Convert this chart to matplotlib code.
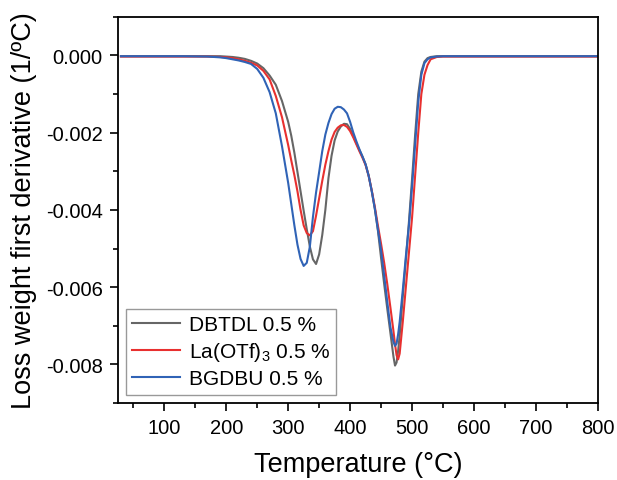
import numpy as np
import matplotlib.pyplot as plt
from matplotlib.ticker import MultipleLocator, FormatStrFormatter

plt.rcParams['font.family'] = ['Liberation Sans', 'DejaVu Sans']
plt.rcParams['mathtext.fontset'] = 'custom'
plt.rcParams['mathtext.rm'] = 'Liberation Sans'

# temperature grid (degC) and DTG values
temp = [30, 80, 130, 170, 190,
        200, 210, 220, 230, 240, 250, 260, 270, 280, 290, 300,
        305, 310, 315, 320, 325, 330, 335, 340, 345, 350, 355, 360, 365, 370,
        375, 380, 385, 390, 395, 400, 405,
        410, 415, 420, 425, 430, 435, 440, 445, 450, 455, 460, 465, 470,
        472.5, 475, 477.5,
        480, 485, 490, 495, 500, 505, 510, 515, 520, 525, 530,
        540, 550, 600, 700, 800]

dbtdl = [-0.00002, -0.00002, -0.00002, -0.00002, -0.00002,
         -0.00003, -0.00004, -0.00006, -0.00009, -0.00014, -0.00021, -0.00033, -0.00052,
         -0.00076, -0.00118, -0.00172,
         -0.00208, -0.00252, -0.00302, -0.00352, -0.00402, -0.00450, -0.00495, -0.00528,
         -0.00540, -0.00515, -0.00465, -0.00400, -0.00318, -0.00260,
         -0.00220, -0.00197, -0.00184, -0.00177, -0.00178, -0.00190, -0.00208,
         -0.00227, -0.00245, -0.00262, -0.00282, -0.00312, -0.00352, -0.00398, -0.00455,
         -0.00525, -0.00592, -0.00656, -0.00718, -0.00780,
         -0.00803, -0.00795, -0.00765,
         -0.00725, -0.00625, -0.00530, -0.00430, -0.00320, -0.00205, -0.00100, -0.00042,
         -0.00016, -0.00007, -0.00004,
         -0.00002, -0.00002, -0.00002, -0.00002, -0.00002]

la_otf = [-0.00003, -0.00003, -0.00003, -0.00003, -0.00004,
          -0.00005, -0.00007, -0.00010, -0.00014, -0.00019, -0.00026, -0.00040, -0.00062,
          -0.00105, -0.00160, -0.00232,
          -0.00272, -0.00310, -0.00352, -0.00400, -0.00440, -0.00460, -0.00466, -0.00455,
          -0.00415, -0.00370, -0.00325, -0.00283, -0.00248, -0.00218,
          -0.00198, -0.00187, -0.00181, -0.00180, -0.00185, -0.00196, -0.00212,
          -0.00230, -0.00248, -0.00265, -0.00284, -0.00312, -0.00350, -0.00393, -0.00442,
          -0.00488, -0.00537, -0.00592, -0.00652, -0.00714,
          -0.00748, -0.00776, -0.00787,
          -0.00772, -0.00690, -0.00600, -0.00510, -0.00420, -0.00310, -0.00200, -0.00100,
          -0.00050, -0.00025, -0.00010,
          -0.00004, -0.00003, -0.00003, -0.00003, -0.00003]

bgdbu = [-0.00002, -0.00002, -0.00002, -0.00003, -0.00005,
         -0.00007, -0.00010, -0.00013, -0.00017, -0.00022, -0.00035, -0.00058, -0.00095,
         -0.00150, -0.00235, -0.00330,
         -0.00385, -0.00440, -0.00490, -0.00527, -0.00545, -0.00537, -0.00495, -0.00418,
         -0.00355, -0.00302, -0.00248, -0.00205, -0.00175, -0.00152,
         -0.00138, -0.00133, -0.00134, -0.00140, -0.00150, -0.00172, -0.00199,
         -0.00222, -0.00243, -0.00262, -0.00282, -0.00312, -0.00352, -0.00398, -0.00452,
         -0.00505, -0.00570, -0.00638, -0.00703, -0.00742,
         -0.00752, -0.00746, -0.00722,
         -0.00690, -0.00608, -0.00520, -0.00440, -0.00340, -0.00230, -0.00120, -0.00050,
         -0.00020, -0.00010, -0.00005,
         -0.00003, -0.00002, -0.00002, -0.00002, -0.00002]

labels = ['DBTDL 0.5 %', r'La(OTf)$_\mathregular{3}$ 0.5 %', 'BGDBU 0.5 %']
colors = ['#666666', '#e8302f', '#3063b6']

fig = plt.figure(figsize=(6.17, 4.81), dpi=100)
ax = fig.add_axes([0.191, 0.160, 0.778, 0.803])

for ys, lab, c in zip([dbtdl, la_otf, bgdbu], labels, colors):
    ax.plot(temp, ys, color=c, lw=1.5, label=lab)

ax.set_xlim(25, 800)
ax.set_ylim(-0.009, 0.001)
ax.xaxis.set_major_locator(MultipleLocator(100))
ax.xaxis.set_minor_locator(MultipleLocator(50))
ax.yaxis.set_major_locator(MultipleLocator(0.002))
ax.yaxis.set_minor_locator(MultipleLocator(0.001))
ax.yaxis.set_major_formatter(FormatStrFormatter('%.3f'))
ax.tick_params(which='major', direction='out', length=6, width=1.2, labelsize=14.5, pad=5)
ax.tick_params(which='minor', direction='out', length=3.5, width=1.2)
for s in ax.spines.values():
    s.set_linewidth(1.3)

ax.set_xlabel('Temperature (°C)', fontsize=19.5, labelpad=10)
ax.set_ylabel('Loss weight first derivative (1/ºC)', fontsize=19.5, labelpad=6)

leg = ax.legend(loc='lower left', fontsize=15, handlelength=2.3, handletextpad=0.4,
                labelspacing=0.3, borderaxespad=0.4, fancybox=False, framealpha=1,
                edgecolor='#999999', borderpad=0.3)
leg.get_frame().set_linewidth(1.0)

fig.savefig('out.png', dpi=100)
